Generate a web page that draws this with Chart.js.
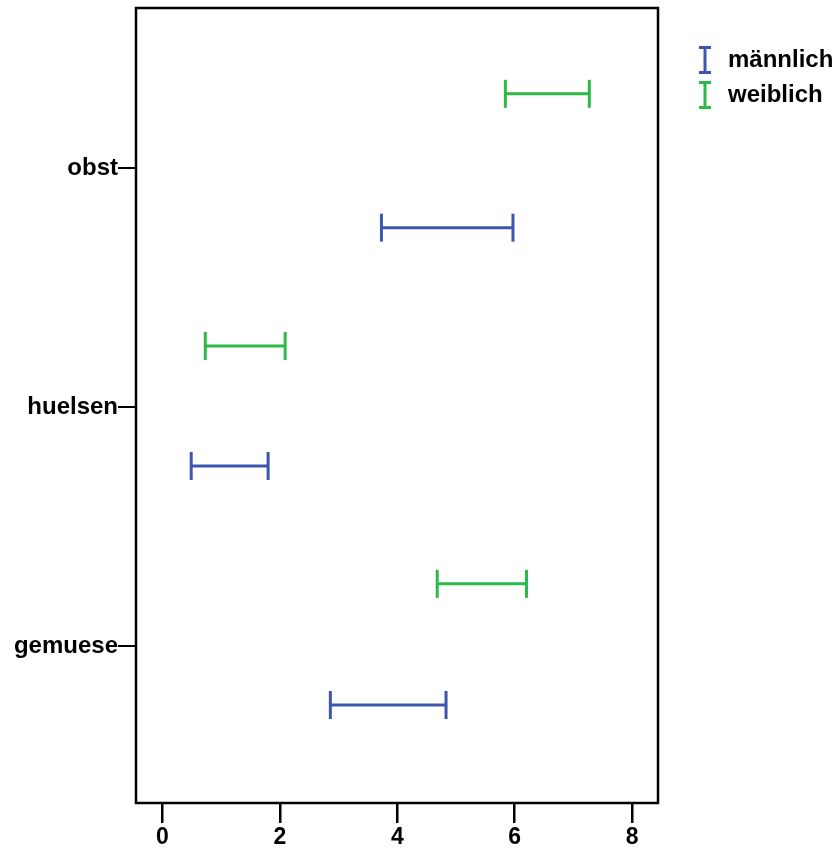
<!DOCTYPE html>
<html>
<head>
<meta charset="utf-8">
<script src="https://cdn.jsdelivr.net/npm/chart.js@4.4.1/dist/chart.umd.min.js"></script>
<style>
  html, body { margin: 0; padding: 0; background: #ffffff; }
  #wrap { width: 837px; height: 849px; position: relative; }
</style>
</head>
<body>
<div id="wrap"><canvas id="c"></canvas></div>
<script>
// Categories (top to bottom)
const categories = ['obst', 'huelsen', 'gemuese'];
const seriesNames = ['männlich', 'weiblich'];

// Interval ends per category
const maleLow    = [3.73, 0.49, 2.86];
const maleHigh   = [5.97, 1.80, 4.83];
const femaleLow  = [5.84, 0.73, 4.68];
const femaleHigh = [7.27, 2.09, 6.20];

// x-axis tick labels
const xTickValues = [0, 2, 4, 6, 8];

// vertical placement of each group's bars around the category line
const maleShift   = [0.25, 0.247, 0.247];
const femaleShift = [-0.31, -0.255, -0.26];

const BLUE = '#3d56ad';
const GREEN = '#2cb946';
const FONT = "'Liberation Sans', Arial, Helvetica, sans-serif";
const FONT_SIZE = 24;

function barDatasets(lows, highs, shifts, color) {
  return categories.map((cat, i) => ({
    label: cat,
    data: [{ x: lows[i], y: i + shifts[i] }, { x: highs[i], y: i + shifts[i] }],
    showLine: true,
    borderColor: color,
    borderWidth: 3,
    pointStyle: 'line',
    rotation: 90,
    pointRadius: 14,
    pointBorderColor: color,
    pointBorderWidth: 3,
    pointHoverRadius: 14
  }));
}

const datasets = [
  ...barDatasets(maleLow, maleHigh, maleShift, BLUE),
  ...barDatasets(femaleLow, femaleHigh, femaleShift, GREEN)
];

// plot frame + legend drawn on the canvas
const framePlugin = {
  id: 'frame',
  afterDraw(chart) {
    const { ctx, chartArea: a } = chart;
    ctx.save();
    ctx.strokeStyle = '#000';
    ctx.lineWidth = 2.5;
    ctx.strokeRect(a.left, a.top, a.right - a.left, a.bottom - a.top);

    const items = [{ name: seriesNames[0], color: BLUE, y: 60 },
                   { name: seriesNames[1], color: GREEN, y: 95 }];
    items.forEach(it => {
      const x = 705, h = 12.5;
      ctx.strokeStyle = it.color;
      ctx.lineWidth = 3;
      ctx.beginPath();
      ctx.moveTo(x, it.y - h); ctx.lineTo(x, it.y + h);
      ctx.moveTo(x - 6, it.y - h); ctx.lineTo(x + 6, it.y - h);
      ctx.moveTo(x - 6, it.y + h); ctx.lineTo(x + 6, it.y + h);
      ctx.stroke();
      ctx.fillStyle = '#000';
      ctx.font = 'bold ' + FONT_SIZE + 'px ' + FONT;
      ctx.textBaseline = 'middle';
      ctx.textAlign = 'left';
      ctx.fillText(it.name, 728, it.y);
    });
    ctx.restore();
  }
};

new Chart(document.getElementById('c'), {
  type: 'scatter',
  data: { datasets },
  plugins: [framePlugin],
  options: {
    responsive: true,
    maintainAspectRatio: false,
    animation: false,
    devicePixelRatio: 1,
    layout: { autoPadding: false, padding: { top: 8, right: 179, left: 0, bottom: 0 } },
    plugins: { legend: { display: false }, tooltip: { enabled: false } },
    events: [],
    scales: {
      x: {
        type: 'linear',
        min: -0.45,
        max: 8.44,
        afterBuildTicks(scale) { scale.ticks = xTickValues.map(v => ({ value: v })); },
        afterFit(scale) { scale.height = 46; },
        border: { display: false },
        grid: { drawOnChartArea: false, color: '#000', lineWidth: 2.5, tickLength: 20, tickColor: '#000' },
        ticks: { color: '#000', font: { family: FONT, size: FONT_SIZE - 1, weight: 'bold' }, padding: 1, maxRotation: 0 }
      },
      y: {
        type: 'linear',
        reverse: true,
        min: -0.669,
        max: 2.657,
        afterBuildTicks(scale) { scale.ticks = categories.map((c, i) => ({ value: i })); },
        afterFit(scale) { scale.width = 136; scale.paddingTop = 0; scale.paddingBottom = 0; },
        border: { display: false },
        grid: { drawOnChartArea: false, color: '#000', lineWidth: 2, tickLength: 18, tickColor: '#000' },
        ticks: {
          color: '#000',
          font: { family: FONT, size: FONT_SIZE, weight: 'bold' },
          padding: 0,
          callback: v => categories[v]
        }
      }
    }
  }
});
</script>
</body>
</html>
